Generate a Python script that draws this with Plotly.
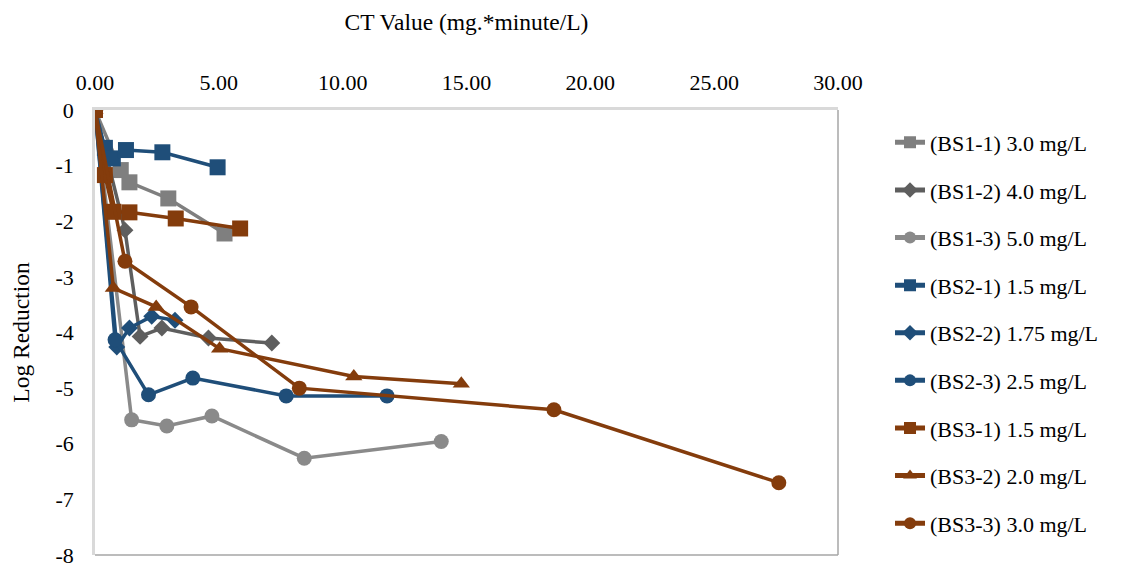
import plotly.graph_objects as go

# CT value (mg*min/L) and log reduction for each run
ct_bs1_1 = [0, 1.04, 1.39, 2.96, 5.23]
lr_bs1_1 = [0, -1.08, -1.30, -1.59, -2.22]

ct_bs1_2 = [0, 1.21, 1.82, 2.70, 4.58, 7.14]
lr_bs1_2 = [0, -2.16, -4.07, -3.92, -4.10, -4.19]

ct_bs1_3 = [0, 1.48, 2.90, 4.72, 8.45, 13.98]
lr_bs1_3 = [0, -5.57, -5.68, -5.50, -6.26, -5.96]

ct_bs2_1 = [0, 0.40, 0.72, 1.25, 2.72, 4.95]
lr_bs2_1 = [0, -0.68, -0.87, -0.72, -0.76, -1.03]

ct_bs2_2 = [0, 0.88, 1.39, 2.29, 3.23]
lr_bs2_2 = [0, -4.26, -3.92, -3.71, -3.78]

ct_bs2_3 = [0, 0.81, 2.16, 3.95, 7.72, 11.79]
lr_bs2_3 = [0, -4.13, -5.12, -4.82, -5.14, -5.14]

ct_bs3_1 = [0, 0.40, 0.74, 1.39, 3.26, 5.86]
lr_bs3_1 = [0, -1.17, -1.83, -1.84, -1.95, -2.13]

ct_bs3_2 = [0, 0.74, 2.47, 5.03, 10.45, 14.79]
lr_bs3_2 = [0, -3.20, -3.54, -4.29, -4.79, -4.92]

ct_bs3_3 = [0, 1.21, 3.88, 8.25, 18.53, 27.61]
lr_bs3_3 = [0, -2.72, -3.54, -5.00, -5.39, -6.70]

series_names = [
    "(BS1-1) 3.0 mg/L", "(BS1-2) 4.0 mg/L", "(BS1-3) 5.0 mg/L",
    "(BS2-1) 1.5 mg/L", "(BS2-2) 1.75 mg/L", "(BS2-3) 2.5 mg/L",
    "(BS3-1) 1.5 mg/L", "(BS3-2) 2.0 mg/L", "(BS3-3) 3.0 mg/L",
]

x_ticks = [0, 5, 10, 15, 20, 25, 30]
x_tick_text = ["0.00", "5.00", "10.00", "15.00", "20.00", "25.00", "30.00"]
y_ticks = [0, -1, -2, -3, -4, -5, -6, -7, -8]
y_tick_text = ["0", "-1", "-2", "-3", "-4", "-5", "-6", "-7", "-8"]

GRAY1 = "#7f7f7f"
GRAY2 = "#5e5e5e"
GRAY3 = "#8a8a8a"
BLUE = "#1f4e79"
BROWN = "#843c0c"

series = [
    (ct_bs1_1, lr_bs1_1, GRAY1, "square", 16),
    (ct_bs1_2, lr_bs1_2, GRAY2, "diamond", 13),
    (ct_bs1_3, lr_bs1_3, GRAY3, "circle", 15),
    (ct_bs2_1, lr_bs2_1, BLUE, "square", 16),
    (ct_bs2_2, lr_bs2_2, BLUE, "diamond", 13),
    (ct_bs2_3, lr_bs2_3, BLUE, "circle", 15),
    (ct_bs3_1, lr_bs3_1, BROWN, "square", 16),
    (ct_bs3_2, lr_bs3_2, BROWN, "triangle-up", 15),
    (ct_bs3_3, lr_bs3_3, BROWN, "circle", 15),
]

FONT = "Liberation Serif, Times New Roman, serif"

fig = go.Figure()
for name, (xs, ys, color, symbol, size) in zip(series_names, series):
    fig.add_trace(go.Scatter(
        x=xs, y=ys, name=name, mode="lines+markers",
        legendgroup=name,
        line=dict(color=color, width=3.5),
        marker=dict(symbol=symbol, size=size, color=color),
    ))

fig.update_layout(
    width=1126, height=567,
    margin=dict(l=95, r=288, t=110, b=12),
    paper_bgcolor="white", plot_bgcolor="white",
    font=dict(family=FONT, size=22, color="#000000"),
    showlegend=True,
    legend=dict(
        x=1.07, y=0.974, xanchor="left", yanchor="top",
        font=dict(family=FONT, size=22, color="#000000"),
        tracegroupgap=16, itemsizing="constant",
        bgcolor="rgba(0,0,0,0)",
    ),
    xaxis=dict(
        side="top", range=[0, 30], tickvals=x_ticks, ticktext=x_tick_text,
        showgrid=False, zeroline=False, automargin=False,
        showline=True, linecolor="#d9d9d9", linewidth=2.5,
        ticks="", ticklabelstandoff=8, ticklabeloverflow="allow",
        tickfont=dict(family=FONT, size=22, color="#000000"),
        title=dict(text="CT Value (mg.*minute/L)", standoff=34,
                   font=dict(family=FONT, size=23.5, color="#000000")),
    ),
    yaxis=dict(
        range=[-8, 0], tickvals=y_ticks, ticktext=y_tick_text,
        showgrid=False, zeroline=False, automargin=False,
        showline=True, linecolor="#d9d9d9", linewidth=2.5,
        ticks="", ticklabelstandoff=14, ticklabeloverflow="allow",
        tickfont=dict(family=FONT, size=22, color="#000000"),
        title=dict(text="Log Reduction", standoff=20,
                   font=dict(family=FONT, size=23.5, color="#000000")),
    ),
    shapes=[
        dict(type="line", xref="paper", yref="paper", x0=1, x1=1, y0=0, y1=1,
             line=dict(color="#a6a6a6", width=1.5), layer="below"),
        dict(type="line", xref="paper", yref="paper", x0=0, x1=1, y0=0, y1=0,
             line=dict(color="#a6a6a6", width=1.5), layer="below"),
    ],
)

fig.write_html("out.html")
